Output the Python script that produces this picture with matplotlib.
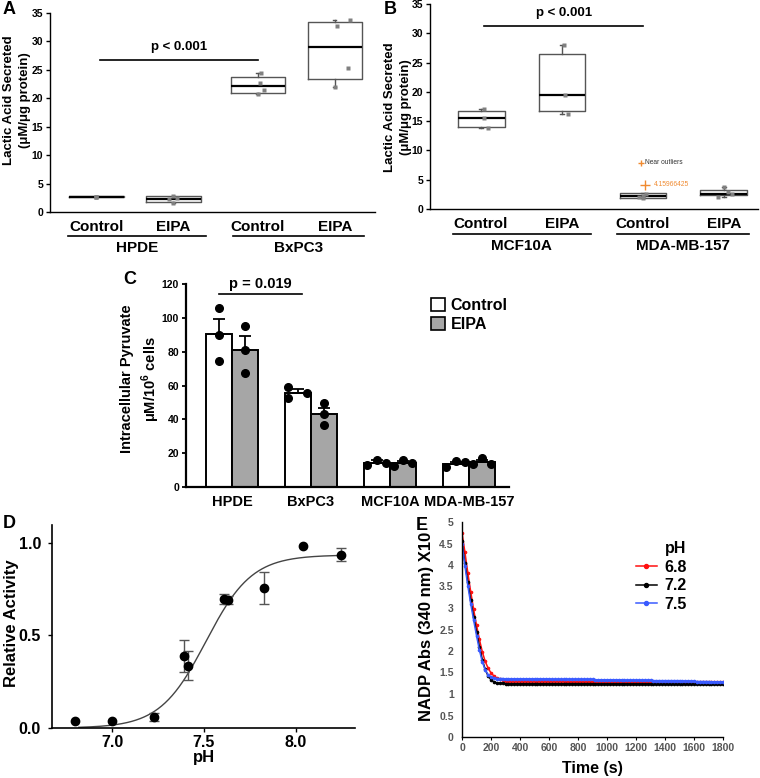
import numpy as np
import matplotlib
matplotlib.use('Agg')
import matplotlib.pyplot as plt
from matplotlib.patches import Patch

plt.rcParams['font.family'] = ['Liberation Sans', 'DejaVu Sans']
plt.rcParams['font.weight'] = 'bold'
plt.rcParams['mathtext.fontset'] = 'custom'
plt.rcParams['mathtext.rm'] = 'Liberation Sans:bold'
plt.rcParams['mathtext.bf'] = 'Liberation Sans:bold'

# ---------------- DATA ----------------
# Panel A: lactic acid secreted (box plots)
A_conditions = ['Control', 'EIPA', 'Control', 'EIPA']
A_groups = ['HPDE', 'BxPC3']
A_q1 = [2.65, 1.75, 21.0, 23.4]
A_med = [2.70, 2.35, 22.2, 29.1]
A_q3 = [2.75, 2.75, 23.7, 33.4]
A_wlo = [2.65, 1.6, 20.7, 22.0]
A_whi = [2.75, 2.8, 24.4, 33.8]
A_points = [[2.72, 2.68, 2.65], [2.75, 2.5, 2.2, 1.6],
            [24.5, 22.7, 21.5, 20.7], [33.8, 32.7, 25.4, 22.0]]
A_pval = 'p < 0.001'
A_pline = 26.8

# Panel B
B_conditions = ['Control', 'EIPA', 'Control', 'EIPA']
B_groups = ['MCF10A', 'MDA-MB-157']
B_q1 = [14.0, 16.7, 1.9, 2.4]
B_med = [15.5, 19.4, 2.25, 2.5]
B_q3 = [16.7, 26.5, 2.7, 3.3]
B_wlo = [13.8, 16.2, 1.8, 2.0]
B_whi = [17.0, 28.0, 2.7, 3.8]
B_points = [[17.0, 15.6, 13.8], [28.0, 19.4, 16.2],
            [2.6, 2.3, 2.0, 1.8], [3.8, 2.9, 2.6, 2.0]]
B_pval = 'p < 0.001'
B_pline = 31.3
B_near_outlier_label = 7.9
B_outlier_value = 4.15966425

# Panel C: intracellular pyruvate
C_groups = ['HPDE', 'BxPC3', 'MCF10A', 'MDA-MB-157']
C_ctrl_mean = [90.4, 55.4, 14.4, 13.8]
C_ctrl_sem = [8.8, 2.5, 1.3, 1.2]
C_eipa_mean = [81.1, 42.9, 14.3, 14.6]
C_eipa_sem = [8.3, 4.0, 1.2, 1.6]
C_ctrl_pts = [[105.8, 90.0, 74.7], [58.9, 52.4, 55.8], [13.2, 16.2, 14.4], [11.9, 15.2, 14.6]]
C_eipa_pts = [[95.3, 81.0, 67.2], [49.4, 43.1, 36.6], [12.5, 15.8, 14.4], [13.8, 17.2, 13.8]]
C_pval = 'p = 0.019'
C_pline = 114

# Panel D: relative activity vs pH
D_ph = [6.80, 7.00, 7.23, 7.39, 7.415, 7.61, 7.63, 7.825, 8.04, 8.245]
D_act = [0.036, 0.036, 0.060, 0.389, 0.336, 0.698, 0.691, 0.756, 0.982, 0.937]
D_err = [0.0, 0.0, 0.023, 0.085, 0.079, 0.027, 0.02, 0.086, 0.0, 0.034]
D_fit_top = 0.935
D_fit_mid = 7.51
D_fit_slope = 0.125
D_fit_range = (6.82, 8.25)

# Panel E: NADP absorbance vs time (sampled every 20 s)
E_time = list(range(0, 1801, 20))
E_ph_labels = ['6.8', '7.2', '7.5']
E_ph68 = [4.75, 4.30, 3.82, 3.38, 2.97, 2.60, 2.27, 1.98, 1.76, 1.60, 1.49, 1.42, 1.37, 1.34, 1.32, 1.31,
          1.30, 1.30, 1.30, 1.30, 1.30, 1.30, 1.30, 1.30, 1.30, 1.30, 1.30, 1.30, 1.30, 1.30, 1.30,
          1.30, 1.30, 1.30, 1.30, 1.30, 1.29, 1.29, 1.29, 1.29, 1.29, 1.29, 1.29, 1.29, 1.29, 1.29,
          1.29, 1.29, 1.29, 1.29, 1.29, 1.29, 1.29, 1.29, 1.29, 1.29, 1.29, 1.29, 1.29, 1.29, 1.29,
          1.29, 1.29, 1.29, 1.29, 1.29, 1.28, 1.28, 1.28, 1.28, 1.28, 1.28, 1.28, 1.28, 1.28, 1.28,
          1.28, 1.28, 1.28, 1.28, 1.28, 1.28, 1.28, 1.28, 1.28, 1.28, 1.28, 1.28, 1.28, 1.28, 1.28]
E_ph72 = [4.55, 4.05, 3.60, 3.18, 2.80, 2.45, 2.10, 1.80, 1.57, 1.42, 1.33, 1.28, 1.26, 1.25, 1.25, 1.24,
          1.24, 1.24, 1.24, 1.24, 1.24, 1.24, 1.24, 1.24, 1.24, 1.24, 1.24, 1.24, 1.24, 1.24, 1.24,
          1.24, 1.24, 1.24, 1.24, 1.24, 1.24, 1.24, 1.24, 1.24, 1.24, 1.24, 1.24, 1.24, 1.24, 1.24,
          1.23, 1.23, 1.23, 1.23, 1.23, 1.23, 1.23, 1.23, 1.23, 1.23, 1.23, 1.23, 1.23, 1.23, 1.23,
          1.23, 1.23, 1.23, 1.23, 1.23, 1.23, 1.23, 1.23, 1.23, 1.23, 1.23, 1.23, 1.23, 1.23, 1.23,
          1.23, 1.23, 1.23, 1.23, 1.23, 1.23, 1.23, 1.23, 1.23, 1.23, 1.23, 1.23, 1.23, 1.23, 1.23]
E_ph75 = [4.50, 3.98, 3.52, 3.10, 2.72, 2.36, 2.02, 1.75, 1.56, 1.45, 1.40, 1.37, 1.36, 1.36, 1.36, 1.35,
          1.35, 1.35, 1.35, 1.35, 1.35, 1.35, 1.35, 1.35, 1.35, 1.35, 1.35, 1.35, 1.35, 1.35, 1.35,
          1.34, 1.34, 1.34, 1.34, 1.34, 1.34, 1.34, 1.34, 1.34, 1.34, 1.34, 1.34, 1.34, 1.34, 1.34,
          1.33, 1.33, 1.33, 1.33, 1.33, 1.33, 1.33, 1.33, 1.33, 1.33, 1.32, 1.32, 1.32, 1.32, 1.32,
          1.32, 1.32, 1.32, 1.32, 1.32, 1.31, 1.31, 1.31, 1.31, 1.31, 1.31, 1.31, 1.31, 1.31, 1.31,
          1.30, 1.30, 1.30, 1.30, 1.30, 1.29, 1.29, 1.29, 1.29, 1.29, 1.28, 1.28, 1.28, 1.28, 1.28]

# ---------------- FIGURE ----------------
W, H = 760, 778
fig = plt.figure(figsize=(W / 100, H / 100), dpi=100)
fig.patch.set_facecolor('white')


def add_ax(l, t, r, b):
    return fig.add_axes([l / W, 1 - b / H, (r - l) / W, (b - t) / H])


def ftext(x, y, s, **kw):
    fig.text(x / W, 1 - y / H, s, **kw)


def style_axes(ax, lw=1.0):
    for sp in ['top', 'right']:
        ax.spines[sp].set_visible(False)
    for sp in ['left', 'bottom']:
        ax.spines[sp].set_linewidth(lw)
        ax.spines[sp].set_color('black')


def box_panel(ax, pos, width, q1, med, q3, wlo, whi, pts, jit, conds, groups, glines, pline, pspan, pval):
    stats = [dict(med=m, q1=a, q3=b, whislo=lo, whishi=hi, fliers=[])
             for a, m, b, lo, hi in zip(q1, med, q3, wlo, whi)]
    ax.bxp(stats, positions=pos, widths=width, showfliers=False,
           boxprops=dict(color='#555555', lw=1.0),
           medianprops=dict(color='black', lw=1.6),
           whiskerprops=dict(color='#555555', lw=1.0),
           capprops=dict(color='#555555', lw=1.0), capwidths=0.04,
           manage_ticks=False)
    for p, vals, jj in zip(pos, pts, jit):
        ax.plot([p + j for j in jj], vals, 's', color='#808080', ms=2.6, mec='none', zorder=5)
    ax.set_ylim(0, 35)
    ax.set_yticks(range(0, 36, 5))
    ax.tick_params(axis='y', labelsize=7.5, length=3, width=1, pad=2)
    ax.set_xticks(pos)
    ax.set_xticklabels(conds, fontsize=11, fontweight='bold')
    ax.tick_params(axis='x', length=0, pad=6)
    tr = ax.get_xaxis_transform()
    for g, (a, b) in zip(groups, glines):
        ax.plot([a, b], [-0.12, -0.12], color='black', lw=1.2, transform=tr, clip_on=False)
        ax.text((a + b) / 2, -0.18, g, transform=tr, ha='center', va='center',
                fontsize=11, fontweight='bold')
    ax.plot(pspan, [pline, pline], color='black', lw=1.2)
    ax.text(sum(pspan) / 2, pline + 1.2, pval, ha='center', va='bottom', fontsize=9.5, fontweight='bold')


# ---- Panel A ----
axA = add_ax(50, 13, 375, 212)
style_axes(axA)
posA = [1, 2, 3.1, 4.1]
jitA = [[0, 0, 0], [0, 0.05, -0.05, 0], [0.04, 0.03, 0.08, 0.0], [0.2, 0.03, 0.17, 0.0]]
box_panel(axA, posA, 0.71, A_q1, A_med, A_q3, A_wlo, A_whi, A_points, jitA,
          A_conditions, A_groups, [(0.64, 2.43), (2.78, 4.48)], A_pline, (1.05, 3.10), A_pval)
axA.set_xlim(0.40, 4.62)
ftext(17, 100, 'Lactic Acid Secreted\n(\u03bcM/\u03bcg protein)', rotation=90, ha='center', va='center',
      fontsize=9.5, fontweight='bold', linespacing=1.35)
ftext(9, 9, 'A', fontsize=13, fontweight='bold', ha='center', va='center')

# ---- Panel B ----
axB = add_ax(430, 4, 758, 209)
style_axes(axB)
posB = [1, 2, 3, 4]
jitB = [[0.04, 0.04, 0.08], [0.03, 0.04, 0.07], [0.04, 0.0, -0.05, 0.0], [0.0, 0.05, 0.1, -0.08]]
box_panel(axB, posB, 0.58, B_q1, B_med, B_q3, B_wlo, B_whi, B_points, jitB,
          B_conditions, B_groups, [(0.65, 2.36), (2.68, 4.31)], B_pline, (1.04, 3.0), B_pval)
axB.set_xlim(0.37, 4.42)
axB.plot([2.97], [B_near_outlier_label], '+', color='#f08a30', ms=4, mew=1)
axB.text(3.03, B_near_outlier_label, 'Near outliers', fontsize=4.8, color='#333333',
         va='center', ha='left', fontweight='normal')
axB.plot([3.02], [B_outlier_value], '+', color='#f08a30', ms=7, mew=1)
axB.text(3.13, B_outlier_value, f'{B_outlier_value:.8f}', fontsize=4.8, color='#f08a30',
         va='center', ha='left', fontweight='normal')
ftext(398, 107, 'Lactic Acid Secreted\n(\u03bcM/\u03bcg protein)', rotation=90, ha='center', va='center',
      fontsize=9.5, fontweight='bold', linespacing=1.35)
ftext(390, 9, 'B', fontsize=13, fontweight='bold', ha='center', va='center')

# ---- Panel C ----
axC = add_ax(186, 284, 509, 487)
style_axes(axC, lw=1.6)
xg = np.arange(len(C_groups))
bw = 0.33
axC.bar(xg - bw / 2, C_ctrl_mean, bw, color='white', edgecolor='black', lw=1.4, zorder=2)
axC.bar(xg + bw / 2, C_eipa_mean, bw, color='#a6a6a6', edgecolor='black', lw=1.4, zorder=2)
axC.errorbar(xg - bw / 2, C_ctrl_mean, yerr=[np.zeros(4), C_ctrl_sem], fmt='none',
             ecolor='black', elinewidth=1.3, capsize=4, capthick=1.3, zorder=3)
axC.errorbar(xg + bw / 2, C_eipa_mean, yerr=[np.zeros(4), C_eipa_sem], fmt='none',
             ecolor='black', elinewidth=1.3, capsize=4, capthick=1.3, zorder=3)
jitC_ctrl = [[0, 0, 0], [-0.12, -0.12, 0.12], [-0.12, 0, 0.12], [-0.12, 0, 0.12]]
jitC_eipa = [[0, 0, 0], [0, 0, 0], [-0.12, 0, 0.12], [-0.12, 0, 0.12]]
for i in range(len(C_groups)):
    axC.plot([xg[i] - bw / 2 + j for j in jitC_ctrl[i]], C_ctrl_pts[i], 'o', color='black', ms=5.5, zorder=4)
    axC.plot([xg[i] + bw / 2 + j for j in jitC_eipa[i]], C_eipa_pts[i], 'o', color='black', ms=5.5, zorder=4)
axC.set_xlim(-0.582, 3.507)
axC.set_ylim(0, 120)
axC.set_yticks(range(0, 121, 20))
axC.tick_params(axis='y', labelsize=7.5, length=3, width=1.3, pad=2)
axC.set_xticks(xg)
axC.set_xticklabels(C_groups, fontsize=10.5, fontweight='bold')
axC.tick_params(axis='x', length=0, pad=6)
axC.plot([-0.17, 0.89], [C_pline, C_pline], color='black', lw=1.2, clip_on=False)
axC.text(0.36, C_pline + 2, C_pval, ha='center', va='bottom', fontsize=10.5, fontweight='bold')
axC.legend(handles=[Patch(facecolor='white', edgecolor='black', lw=1.2),
                    Patch(facecolor='#a6a6a6', edgecolor='black', lw=1.2)],
           labels=['Control', 'EIPA'], loc='upper left', bbox_to_anchor=(0.76, 0.93),
           frameon=False, prop=dict(weight='bold', size=11.5),
           handlelength=0.85, handleheight=0.85, handletextpad=0.35, labelspacing=0.25,
           borderpad=0, borderaxespad=0)
ftext(141, 379, 'Intracellular Pyruvate\n\u03bcM/10$^{6}$ cells', rotation=90, ha='center', va='center',
      fontsize=10.5, fontweight='bold', linespacing=1.3)
ftext(130, 279, 'C', fontsize=13, fontweight='bold', ha='center', va='center')

# ---- Panel D ----
axD = add_ax(52, 525, 355, 728)
style_axes(axD, lw=1.2)
xf = np.linspace(D_fit_range[0], D_fit_range[1], 300)
axD.plot(xf, D_fit_top / (1 + np.exp(-(xf - D_fit_mid) / D_fit_slope)), color='#444444', lw=1.0, zorder=2)
for x, y, e in zip(D_ph, D_act, D_err):
    if e > 0:
        axD.errorbar([x], [y], yerr=[e], fmt='none', ecolor='#555555', elinewidth=1.0,
                     capsize=3.5, capthick=1.0, zorder=3)
axD.plot(D_ph, D_act, 'o', color='black', ms=6, zorder=4)
axD.set_xlim(6.674, 8.32)
axD.set_ylim(0, 1.097)
axD.set_xticks([7.0, 7.5, 8.0])
axD.set_yticks([0.0, 0.5, 1.0])
axD.tick_params(labelsize=11.5, length=3, width=1.0)
axD.tick_params(axis='y', pad=5)
axD.tick_params(axis='x', pad=2)
axD.set_xlabel('pH', fontsize=12, fontweight='bold', labelpad=0)
ftext(12, 623, 'Relative Activity', rotation=90, ha='center', va='center', fontsize=12, fontweight='bold')
ftext(9, 524, 'D', fontsize=13, fontweight='bold', ha='center', va='center')

# ---- Panel E ----
axE = add_ax(462, 522, 723, 737)
style_axes(axE, lw=1.0)
colsE = ['#ff1010', 'black', '#3a5bff']
for ys, c, lab in zip([E_ph68, E_ph72, E_ph75], colsE, E_ph_labels):
    axE.plot(E_time, ys, '-', color=c, lw=1.1, marker='o', ms=1.6, label=lab)
axE.set_xlim(0, 1800)
axE.set_ylim(0, 5)
axE.set_xticks(range(0, 1801, 200))
axE.set_yticks(np.arange(0, 5.01, 0.5))
axE.set_yticklabels(['0', '0.5', '1', '1.5', '2', '2.5', '3', '3.5', '4', '4.5', '5'])
axE.tick_params(labelsize=7.5, labelcolor='#555555', length=2, width=0.8, pad=2)
axE.tick_params(axis='y', length=0, pad=6)
for lbl in axE.get_xticklabels() + axE.get_yticklabels():
    lbl.set_fontweight('bold')
leg = axE.legend(title='pH', loc='upper left', bbox_to_anchor=(0.665, 0.91), frameon=False,
                 prop=dict(weight='bold', size=11.5), title_fontproperties=dict(weight='bold', size=11.5),
                 handlelength=1.35, handletextpad=0.45, labelspacing=0.22, borderpad=0, borderaxespad=0,
                 alignment='right', markerscale=1.8)
axE.set_xlabel('Time (s)', fontsize=11.5, fontweight='bold', labelpad=6)
ftext(427, 626, 'NADP Abs (340 nm) X10', rotation=90, ha='center', va='center', fontsize=12, fontweight='bold')
ftext(422, 525, 'E', fontsize=13, fontweight='bold', ha='center', va='center')

fig.savefig('out.png', dpi=100, facecolor='white')
